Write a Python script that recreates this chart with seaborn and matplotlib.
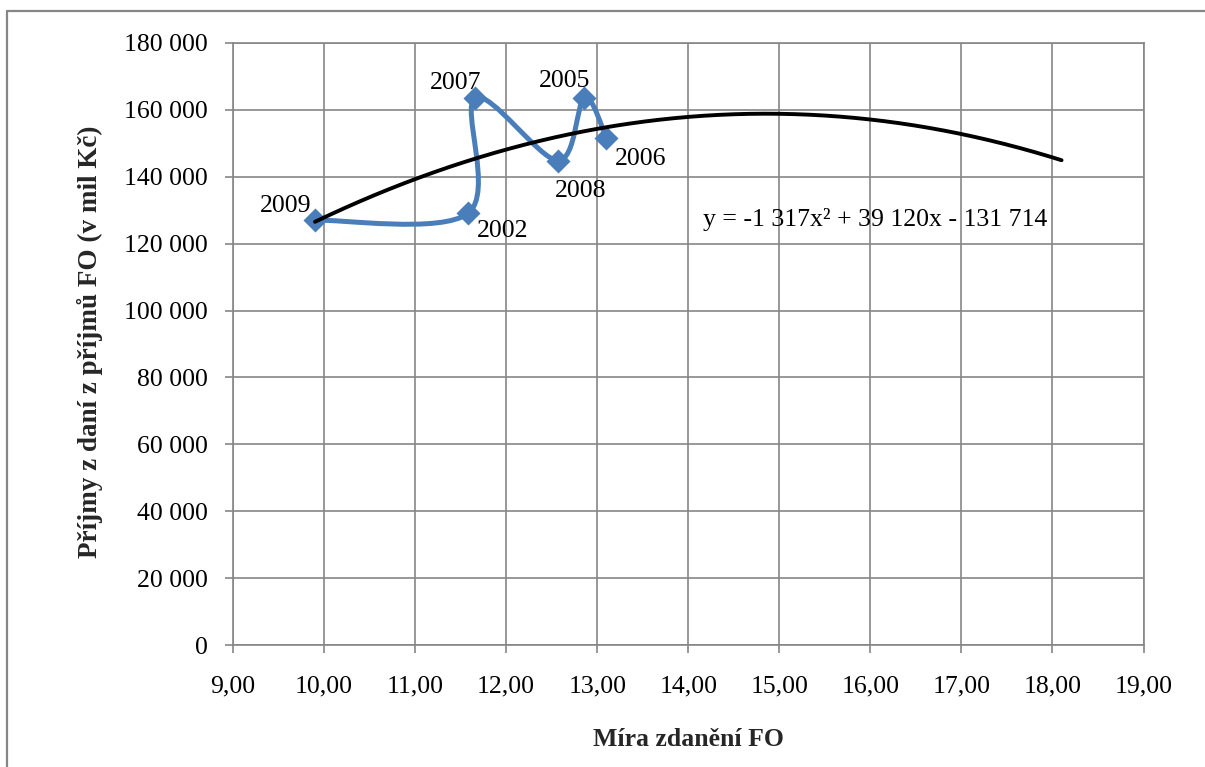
import numpy as np
import pandas as pd
import matplotlib
matplotlib.use("Agg")
import matplotlib.pyplot as plt
from matplotlib.path import Path
from matplotlib.patches import PathPatch
from matplotlib.lines import Line2D
from matplotlib.ticker import FuncFormatter, MultipleLocator
import seaborn as sns

# Tax rate vs. income tax revenue of natural persons, by year (in path order)
years = ["2009", "2002", "2007", "2008", "2005", "2006"]
tax_rate = [9.90, 11.58, 11.66, 12.57, 12.86, 13.10]
revenue = [127000, 129000, 163500, 144800, 163600, 151600]

# Polynomial trendline coefficients (a*x^2 + b*x + c) and its x-range
trend_coef = [-1317, 39120, -131714]
trend_x_range = [9.90, 18.10]
trend_label = "y = -1 317x² + 39 120x - 131 714"

x_label = "Míra zdanění FO"
y_label = "Příjmy z daní z příjmů FO (v mil Kč)"

# Label offsets in points for each year
label_offsets = {
    "2009": (-21, 10), "2002": (25, -13), "2007": (-14, 11),
    "2008": (16, -22), "2005": (-14, 12), "2006": (25, -15),
}

sns.set_theme(style="white")
plt.rcParams["font.family"] = ["Liberation Serif", "DejaVu Serif"]

BLUE = "#4A7EBB"
GRID = "#868686"
FS = 18.5

fig = plt.figure(figsize=(12.05, 7.67), dpi=100)
ax = fig.add_axes([233 / 1205, 1 - 645.3 / 767, (1143.5 - 233) / 1205, (645.3 - 42.7) / 767])

df = pd.DataFrame({"year": years, "x": tax_rate, "y": revenue})

# Smoothed connecting line (Catmull-Rom style cubic Bezier through the points)
pts = df[["x", "y"]].to_numpy(dtype=float)
n = len(pts)
verts = [tuple(pts[0])]
codes = [Path.MOVETO]
for i in range(n - 1):
    p_prev = pts[i - 1] if i > 0 else pts[i]
    p_next2 = pts[i + 2] if i + 2 < n else pts[i + 1]
    c1 = pts[i] + (pts[i + 1] - p_prev) / 6.0
    c2 = pts[i + 1] - (p_next2 - pts[i]) / 6.0
    verts += [tuple(c1), tuple(c2), tuple(pts[i + 1])]
    codes += [Path.CURVE4] * 3
ax.add_patch(PathPatch(Path(verts, codes), facecolor="none", edgecolor=BLUE,
                       lw=3.6, zorder=2, capstyle="round", joinstyle="round"))

sns.scatterplot(data=df, x="x", y="y", marker="D", s=150, color=BLUE,
                edgecolor=BLUE, linewidth=0, ax=ax, zorder=3, legend=False)

# Trendline
tx = np.linspace(trend_x_range[0], trend_x_range[1], 300)
ty = np.polyval(trend_coef, tx)
sns.lineplot(x=tx, y=ty, color="black", lw=2.8, ax=ax, zorder=4, sort=False)

for yr, xv, yv in zip(years, tax_rate, revenue):
    ax.annotate(yr, (xv, yv), xytext=label_offsets[yr], textcoords="offset points",
                ha="center", va="center", fontsize=FS, color="black", zorder=5)

ax.text(14.16, 127300, trend_label, ha="left", va="center", fontsize=FS, color="black", zorder=5)

ax.set_xlim(9, 19)
ax.set_ylim(0, 180000)
ax.xaxis.set_major_locator(MultipleLocator(1))
ax.yaxis.set_major_locator(MultipleLocator(20000))
ax.xaxis.set_major_formatter(FuncFormatter(lambda v, p: f"{v:.2f}".replace(".", ",")))
ax.yaxis.set_major_formatter(FuncFormatter(lambda v, p: f"{int(round(v)):,}".replace(",", " ")))

ax.grid(True, color=GRID, lw=1.2)
ax.set_axisbelow(True)
for s in ax.spines.values():
    s.set_color(GRID)
    s.set_linewidth(1.2)
ax.tick_params(axis="both", which="major", length=6, width=1.2, color=GRID,
               labelsize=FS, labelcolor="black", direction="out",
               bottom=True, left=True)
ax.tick_params(axis="y", pad=12)
ax.tick_params(axis="x", pad=16)

ax.set_xlabel(x_label, fontsize=FS, fontweight="bold", labelpad=22)
ax.set_ylabel(y_label, fontsize=19.5, fontweight="bold", labelpad=0)
ax.yaxis.set_label_coords(-(233 - 103) / (1143.5 - 233), 0.5 + ((645.3 - 42.7) / 2 - (341.5 - 42.7)) / (645.3 - 42.7))

# Outer chart frame (top and left edges)
fig.add_artist(Line2D([7.5 / 1205, 7.5 / 1205], [0, 1 - 10.5 / 767], transform=fig.transFigure,
                      color=GRID, lw=1.6))
fig.add_artist(Line2D([7.5 / 1205, 1], [1 - 10.5 / 767, 1 - 10.5 / 767], transform=fig.transFigure,
                      color=GRID, lw=1.6))

fig.savefig("out.png", dpi=100, facecolor="white")
